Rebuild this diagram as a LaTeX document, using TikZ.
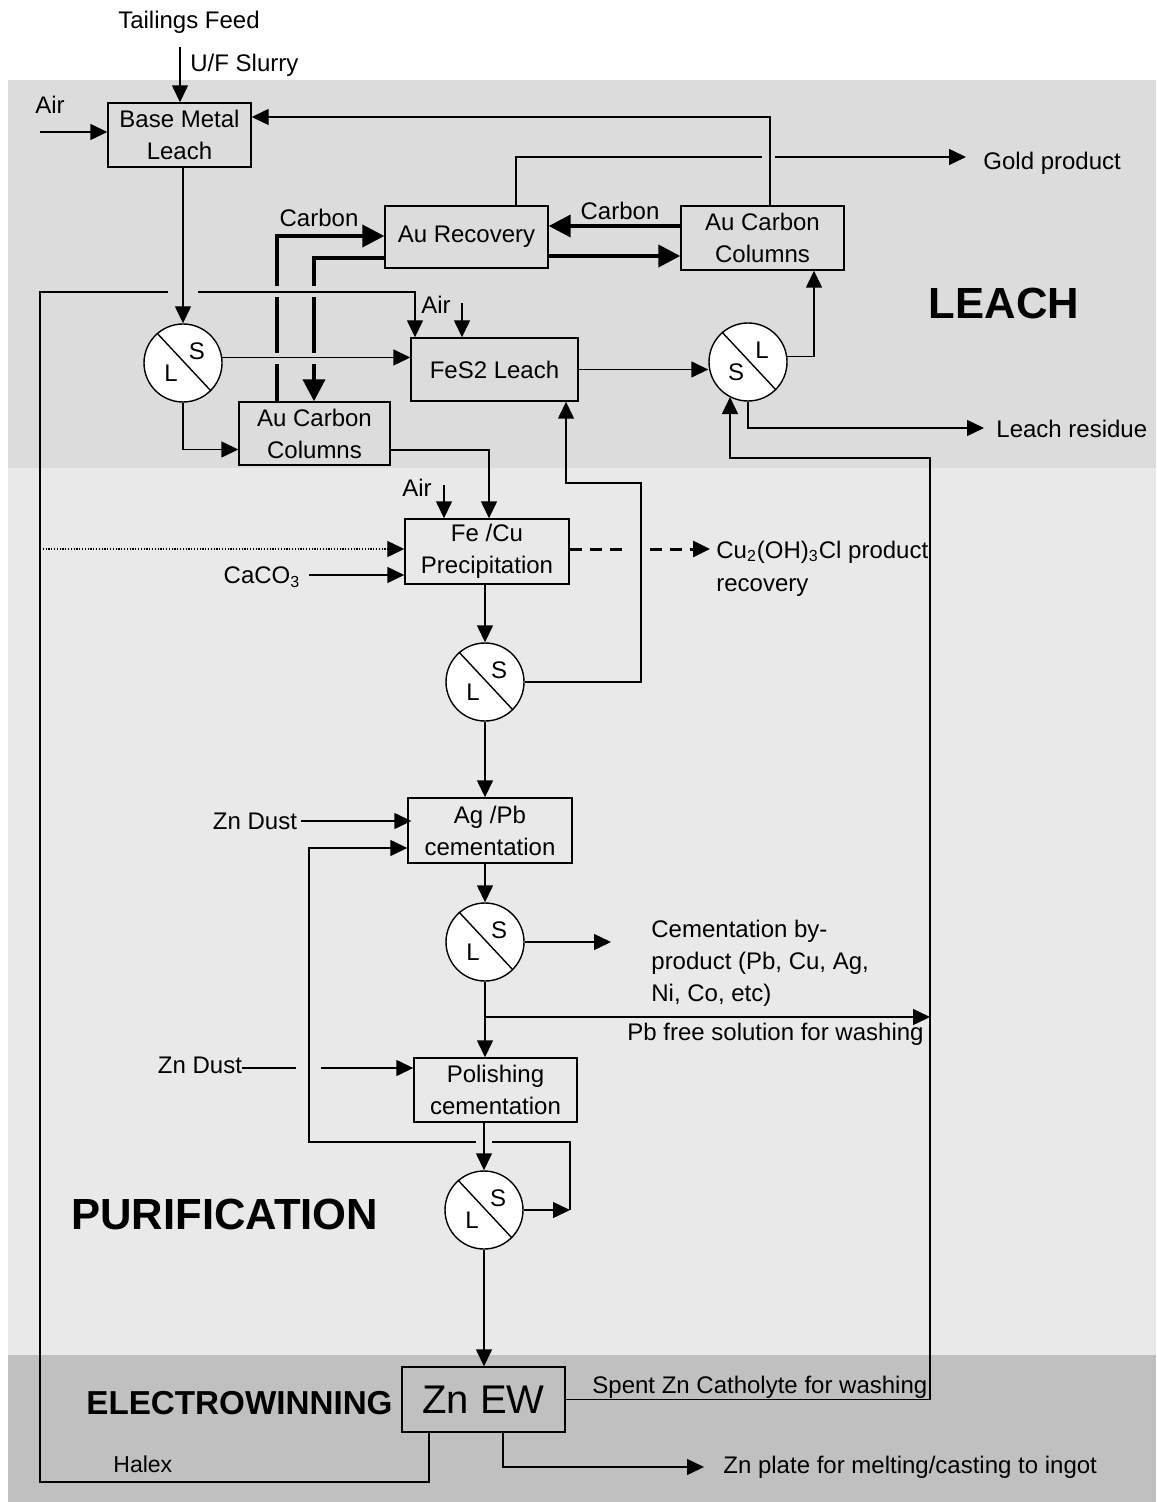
\documentclass[tikz,border=0pt]{standalone}
\usepackage{fontspec}
\setmainfont{Liberation Sans}
\usetikzlibrary{arrows.meta}
\definecolor{leachbg}{RGB}{220,220,220}
\definecolor{purbg}{RGB}{233,233,233}
\definecolor{ewbg}{RGB}{192,192,192}
\begin{document}
\begin{tikzpicture}[x=0.5pt,y=-0.5pt,
  font=\fontsize{12}{16}\selectfont,
  box/.style={draw, line width=0.7pt, inner sep=0pt, align=center},
  slsep/.style={circle, draw, fill=white, line width=0.7pt, minimum size=39pt, inner sep=0pt},
  ln/.style={draw, line width=0.7pt},
  arr/.style={ln, -{Triangle[length=8.5pt,width=8pt]}},
  dotarr/.style={draw, line width=0.6pt, dash pattern=on 0.6pt off 0.8pt, -{Triangle[length=8.5pt,width=8pt]}},
  dasharr/.style={draw, line width=1.5pt, dash pattern=on 6pt off 4pt, -{Triangle[length=8.5pt,width=8pt]}},
  thk/.style={draw, line width=2pt, -{Triangle[length=11pt,width=11pt]}},
  xgap/.style={line width=5.5pt},
  lbl/.style={inner sep=0pt},
  title/.style={inner sep=0pt, font=\fontsize{21.8}{26}\selectfont\bfseries}
]
\useasboundingbox (0,0) rectangle (1156,1502);
% backgrounds
\fill[leachbg] (8,80) rectangle (1156,468);
\fill[purbg] (8,468) rectangle (1156,1355);
\fill[ewbg] (8,1355) rectangle (1156,1502);

% process boxes
\node[box, minimum width=71.5pt, minimum height=32pt] (bml) at (179.5,135) {Base Metal\\Leach};
\node[box, minimum width=81.5pt, minimum height=31pt] (aurec) at (466.5,237) {Au Recovery};
\node[box, minimum width=81.5pt, minimum height=32pt] (acc1) at (762.5,238) {Au Carbon\\Columns};
\node[box, minimum width=83.5pt, minimum height=31.5pt] (fes2) at (494.5,369.5) {FeS2 Leach};
\node[box, minimum width=75.5pt, minimum height=31.5pt] (acc2) at (314.5,433.5) {Au Carbon\\Columns};
\node[box, minimum width=82pt, minimum height=32.5pt] (fecu) at (487,551.5) {Fe /Cu\\Precipitation};
\node[box, minimum width=82pt, minimum height=32.5pt] (agpb) at (490,830.5) {Ag /Pb\\cementation};
\node[box, minimum width=81.5pt, minimum height=32pt] (polish) at (495.5,1090) {Polishing\\cementation};
\node[box, minimum width=81.5pt, minimum height=32.5pt, font=\fontsize{20}{24}\selectfont] (znew) at (483.5,1399.5) {Zn EW};

% separators
\node[slsep] (sep1) at (183,363) {};
\node[slsep] (sep2) at (748,362) {};
\node[slsep] (sep3) at (485,682) {};
\node[slsep] (sep4) at (485,942) {};
\node[slsep] (sep5) at (484,1210) {};
\foreach \s in {sep1,sep3,sep4,sep5}{
  \draw[ln] (\s.131) -- (\s.-45);
  \node[lbl] at ([shift={(14,-12)}]\s.center) {S};
  \node[lbl] at ([shift={(-12,10)}]\s.center) {L};
}
\draw[ln] (sep2.131) -- (sep2.-45);
\node[lbl] at ([shift={(14,-12)}]sep2.center) {L};
\node[lbl] at ([shift={(-12,10)}]sep2.center) {S};

% labels
\node[lbl] (tfl) at (189,22) {Tailings Feed};
\node[lbl, anchor=west] (ufl) at (190,65) {U/F Slurry};
\node[lbl] (air1l) at (50,105) {Air};
\node[lbl, anchor=west] (gold) at (983,163) {Gold product};
\node[lbl] (carb1) at (319,218) {Carbon};
\node[lbl] (carb2) at (620,211) {Carbon};
\node[title] (leach) at (1004,303) {LEACH};
\node[lbl] (air3l) at (436,305) {Air};
\node[lbl, anchor=west] (resid) at (996,429) {Leach residue};
\node[lbl] (air2l) at (417,488) {Air};
\node[lbl] (caco) at (262,577) {CaCO\textsubscript{3}};
\node[lbl, anchor=west] (cuprod) at (716,552) {Cu\textsubscript{2}(OH)\textsubscript{3}Cl product};
\node[lbl, anchor=west] (curec) at (716,588) {recovery};
\node[lbl] (zd1) at (255,821) {Zn Dust};
\node[lbl, anchor=west, align=left] (byprod) at (651,963) {Cementation by-\\product (Pb, Cu, Ag,\\Ni, Co, etc)};
\node[lbl, anchor=west] (pbfree) at (627,1034) {Pb free solution for washing};
\node[lbl] (zd2) at (200,1065) {Zn Dust};
\node[title, anchor=west] (purif) at (71,1214) {PURIFICATION};
\node[title, anchor=west, font=\fontsize{16.6}{20}\selectfont\bfseries] (ew) at (86,1403) {ELECTROWINNING};
\node[lbl, anchor=west] (spent) at (592,1387) {Spent Zn Catholyte for washing};
\node[lbl, anchor=west, font=\fontsize{11.5}{14}\selectfont] (halex) at (113,1464) {Halex};
\node[lbl, anchor=west] (znplate) at (723,1467) {Zn plate for melting/casting to ingot};

% coordinates
\coordinate (tf) at (180,47);
\coordinate (air1) at (40,132);
\coordinate (t1) at (770,117);
\coordinate (g1) at (516,157);
\coordinate (gA) at (762,157);
\coordinate (gB) at (775,157);
\coordinate (gend) at (966,157);
\coordinate (k1) at (277,236);
\coordinate (k2) at (314,258);
\coordinate (c1) at (620,226);
\coordinate (c2) at (620,256);
\coordinate (hx) at (429,1482);
\coordinate (lc) at (40,1482);
\coordinate (tl) at (40,292);
\coordinate (gL) at (168,292);
\coordinate (gR) at (198,292);
\coordinate (fin) at (415,292);
\coordinate (air3) at (462,303);
\coordinate (a2f) at (489,450);
\coordinate (air2) at (444,485);
\coordinate (dt) at (40,549);
\coordinate (cc) at (309,575);
\coordinate (cu) at (710,549);
\coordinate (r3a) at (641,483);
\coordinate (r3b) at (566,483);
\coordinate (lr) at (984,428);
\coordinate (sc2) at (930,458);
\coordinate (sc3) at (730,458);
\coordinate (bp) at (611,942);
\coordinate (pbf) at (485,1017);
\coordinate (pbe) at (930,1017);
\coordinate (z2a) at (296,1068);
\coordinate (z2b) at (321,1068);
\coordinate (l5a) at (570,1142);
\coordinate (l5b) at (492,1142);
\coordinate (l5c) at (476,1142);
\coordinate (l5d) at (309,1142);
\coordinate (l5e) at (309,848);

% thick carbon circuit
\draw[thk] (k1 |- acc2.north) -- (k1) -- (k1 -| aurec.west);
\draw[thk] (k2 -| aurec.west) -- (k2) -- (k2 |- acc2.north);
\draw[thk] (c1 -| acc1.west) -- (c1 -| aurec.east);
\draw[thk] (c2 -| aurec.east) -- (c2 -| acc1.west);
\draw[xgap, leachbg] (268,292) -- (323,292);
\draw[xgap, leachbg] (268,359) -- (323,359);

% leach connectors
\draw[arr] (tf) -- (tf |- bml.north);
\draw[arr] (air1) -- (air1 -| bml.west);
\draw[arr] (acc1.north -| t1) -- (t1) -- (t1 -| bml.east);
\draw[ln] (aurec.north -| g1) -- (g1) -- (gA);
\draw[arr] (gB) -- (gend);
\draw[arr] (bml.south -| sep1) -- (sep1.north);
\draw[arr] (sep1.8) -- (sep1.8 -| fes2.west);
\draw[arr] (sep1.south) |- ([yshift=-8pt]acc2.west);
\draw[ln] (hx |- znew.south) -- (hx) -- (lc) -- (tl) -- (gL);
\draw[arr] (gR) -- (fin) -- (fin |- fes2.north);
\draw[arr] (air3) -- (air3 |- fes2.north);
\draw[arr] (fes2.east) -- (fes2.east -| sep2.west);
\draw[arr] (sep2.8) -| ([xshift=25.75pt]acc1.south);
\draw[arr] (sep2.south) |- (lr);
\draw[arr] (a2f -| acc2.east) -- (a2f) -- (a2f |- fecu.north);

% purification connectors
\draw[arr] (air2) -- (air2 |- fecu.north);
\draw[dotarr] (dt) -- (dt -| fecu.west);
\draw[arr] (cc) -- (cc -| fecu.west);
\draw[dasharr] (cu -| fecu.east) -- (cu);
\draw[purbg, line width=3pt] (624,549) -- (647,549);
\draw[arr] (fecu.south -| sep3) -- (sep3.north);
\draw[arr] (sep3.east) -| (r3a) -- (r3b) -- (r3b |- fes2.south);
\draw[arr] (sep3.south) -- (sep3.south |- agpb.north);
\draw[arr] ([xshift=2pt]zd1.east) -- ([xshift=2pt]zd1.east -| agpb.west);
\draw[arr] (l5c) -- (l5d) -- (l5e) -- (l5e -| agpb.west);
\draw[arr] (agpb.south -| sep4) -- (sep4.north);
\draw[arr] (sep4.east) -- (bp);
\draw[arr] (sep4.south) -- (sep4.south |- polish.north);
\draw[arr] (pbf) -- (pbe);
\draw[ln] (zd2.east |- z2a) -- (z2a);
\draw[arr] (z2b) -- (z2b -| polish.west);
\draw[arr] (polish.south -| sep5) -- (sep5.north);
\draw[arr] (sep5.east) -- (sep5.east -| l5a);
\draw[ln] (sep5.east -| l5a) -- (l5a) -- (l5b);
\draw[arr] (sep5.south) -- (sep5.south |- znew.north);

% electrowinning connectors
\draw[arr] (znew.east) -- (znew.east -| sc2) -- (sc2) -- (sc3) -- (sc3 |- sep2.242);
\draw[arr] ([xshift=9.75pt]znew.south) |- (znplate.west -| 704,0);
\end{tikzpicture}
\end{document}
